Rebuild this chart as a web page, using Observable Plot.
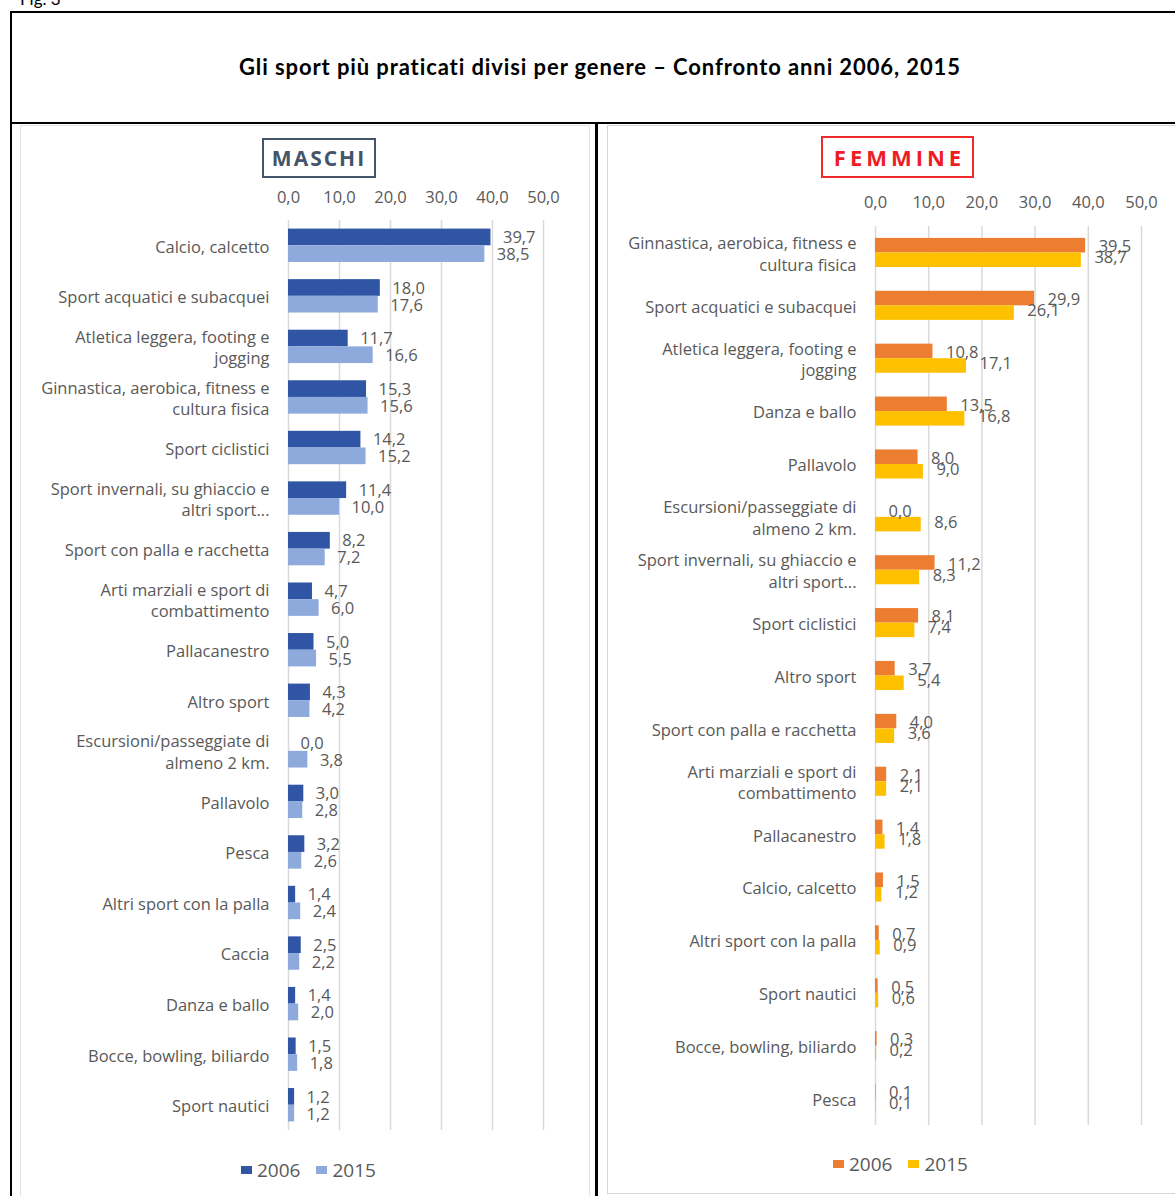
<!DOCTYPE html>
<html>
<head>
<meta charset="utf-8">
<script src="https://cdn.jsdelivr.net/npm/d3@7"></script>
<script src="https://cdn.jsdelivr.net/npm/@observablehq/plot@0.6"></script>
<style>
  html, body { margin: 0; padding: 0; background: #fff; }
  body { width: 1175px; height: 1196px; overflow: hidden; position: relative; font-family: "Open Sans", sans-serif; }
  .abs { position: absolute; }
  #fig { left: 20px; top: -12px; font: 17px Lato, sans-serif; color: #000; }
  #outer { left: 10px; top: 11px; width: 1220px; height: 1240px; border: 2px solid #000; box-sizing: border-box; }
  #hline { left: 10px; top: 122px; width: 1220px; height: 2px; background: #000; }
  #vline { left: 595px; top: 122px; width: 3px; height: 1120px; background: #000; }
  #title { left: 0; top: 53px; width: 1200px; text-align: center; font: bold 22px Lato, sans-serif; letter-spacing: 0.9px; color: #000; }
  #lp { left: 20px; top: 125px; width: 568px; height: 1100px; border: 1px solid #e3e3e3; background: #fff; }
  #rp { left: 607px; top: 125px; width: 620px; height: 1067px; border: 1px solid #d6d6d6; background: #fff; }
  .tbox { box-sizing: border-box; text-align: center; font-weight: bold; font-family: "Open Sans", sans-serif; }
  #mbox { left: 262px; top: 138px; width: 114px; height: 40px; border: 2px solid #44546A; color: #44546A; font-size: 21px; line-height: 36px; letter-spacing: 2px; }
  #fbox { left: 821px; top: 136px; width: 153px; height: 42px; border: 2px solid #EE2A2A; color: #EE1C25; font-size: 22px; line-height: 38px; letter-spacing: 4px; text-indent: 4px; }
  .legend { display: flex; align-items: center; font-size: 19px; color: #595959; font-family: "Open Sans", sans-serif; }
  .sw { display: inline-block; width: 11px; height: 8px; margin-right: 5px; }
  .item { display: flex; align-items: center; margin-right: 16px; }
  svg { overflow: visible; display: block; }
</style>
</head>
<body>
<div id="outer" class="abs"></div>
<div id="hline" class="abs"></div>
<div id="vline" class="abs"></div>
<div id="fig" class="abs">Fig. 3</div>
<div id="title" class="abs">Gli sport più praticati divisi per genere – Confronto anni 2006, 2015</div>
<div id="lp" class="abs"></div>
<div id="rp" class="abs"></div>
<div id="mbox" class="abs tbox">MASCHI</div>
<div id="fbox" class="abs tbox">FEMMINE</div>
<div id="leftChart" class="abs" style="left:20px; top:180px;"></div>
<div id="rightChart" class="abs" style="left:607px; top:180px;"></div>
<div id="leftLegend" class="abs legend" style="left:241px; top:1157px;"></div>
<div id="rightLegend" class="abs legend" style="left:833px; top:1151px;"></div>
<script>
// ---- Data ----
const years = ["2006", "2015"];
const tickValues = [0, 10, 20, 30, 40, 50];

const maleCategories = [
  "Calcio, calcetto",
  "Sport acquatici e subacquei",
  "Atletica leggera, footing e\njogging",
  "Ginnastica, aerobica, fitness e\ncultura fisica",
  "Sport ciclistici",
  "Sport invernali, su ghiaccio e\naltri sport...",
  "Sport con palla e racchetta",
  "Arti marziali e sport di\ncombattimento",
  "Pallacanestro",
  "Altro sport",
  "Escursioni/passeggiate di\nalmeno 2 km.",
  "Pallavolo",
  "Pesca",
  "Altri sport con la palla",
  "Caccia",
  "Danza e ballo",
  "Bocce, bowling, biliardo",
  "Sport nautici"
];
const male2006 = [39.7, 18.0, 11.7, 15.3, 14.2, 11.4, 8.2, 4.7, 5.0, 4.3, 0.0, 3.0, 3.2, 1.4, 2.5, 1.4, 1.5, 1.2];
const male2015 = [38.5, 17.6, 16.6, 15.6, 15.2, 10.0, 7.2, 6.0, 5.5, 4.2, 3.8, 2.8, 2.6, 2.4, 2.2, 2.0, 1.8, 1.2];

const femaleCategories = [
  "Ginnastica, aerobica, fitness e\ncultura fisica",
  "Sport acquatici e subacquei",
  "Atletica leggera, footing e\njogging",
  "Danza e ballo",
  "Pallavolo",
  "Escursioni/passeggiate di\nalmeno 2 km.",
  "Sport invernali, su ghiaccio e\naltri sport...",
  "Sport ciclistici",
  "Altro sport",
  "Sport con palla e racchetta",
  "Arti marziali e sport di\ncombattimento",
  "Pallacanestro",
  "Calcio, calcetto",
  "Altri sport con la palla",
  "Sport nautici",
  "Bocce, bowling, biliardo",
  "Pesca"
];
const female2006 = [39.5, 29.9, 10.8, 13.5, 8.0, 0.0, 11.2, 8.1, 3.7, 4.0, 2.1, 1.4, 1.5, 0.7, 0.5, 0.3, 0.1];
const female2015 = [38.7, 26.1, 17.1, 16.8, 9.0, 8.6, 8.3, 7.4, 5.4, 3.6, 2.1, 1.8, 1.2, 0.9, 0.6, 0.2, 0.1];

const maleColors = ["#2F55A4", "#8EA9DB"];
const femaleColors = ["#ED7D31", "#FFC000"];

// ---- Chart builder ----
const fmt = d => d.toFixed(1).replace(".", ",");

function chart(o) {
  const rows = o.cats.map((c, i) => ({cat: c, a: o.v2006[i], b: o.v2015[i]}));
  const plotH = o.height - o.marginTop - o.marginBottom;
  const step = plotH / o.cats.length;
  const bw = step * (1 - o.pi);
  return Plot.plot({
    width: o.width, height: o.height,
    marginLeft: o.marginLeft, marginRight: o.marginRight,
    marginTop: o.marginTop, marginBottom: o.marginBottom,
    style: {fontFamily: "'Open Sans', sans-serif", fontSize: "16px", color: "#595959", background: "transparent", overflow: "visible"},
    x: {domain: [0, 50]},
    y: {domain: o.cats, paddingInner: o.pi, paddingOuter: o.pi / 2, round: false},
    marks: [
      Plot.gridX(tickValues, {stroke: "#d9d9d9", strokeOpacity: 1, strokeWidth: 1.5}),
      Plot.axisX(tickValues, {anchor: "top", tickSize: 0, tickPadding: o.tickPad, tickFormat: fmt, fontSize: 16.5, label: null}),
      Plot.axisY({tickSize: 0, tickPadding: 19, lineHeight: 1.3, label: null, fontSize: 16.5}),
      Plot.barX(rows, {y: "cat", x: "a", fill: o.colors[0], insetBottom: bw / 2}),
      Plot.barX(rows, {y: "cat", x: "b", fill: o.colors[1], insetTop: bw / 2}),
      Plot.text(rows, {y: "cat", x: "a", text: d => fmt(d.a), dx: o.dx, dy: o.dyA, textAnchor: "start", fill: "#595959", fontSize: 16.5}),
      Plot.text(rows, {y: "cat", x: "b", text: d => fmt(d.b), dx: o.dx, dy: o.dyB, textAnchor: "start", fill: "#595959", fontSize: 16.5})
    ]
  });
}

document.getElementById("leftChart").append(chart({
  cats: maleCategories, v2006: male2006, v2015: male2015, colors: maleColors,
  width: 570, height: 960, marginLeft: 268, marginRight: 47, marginTop: 40, marginBottom: 10,
  pi: 0.34, tickPad: 18, dx: 12, dyA: -8, dyB: 9
}));

document.getElementById("rightChart").append(chart({
  cats: femaleCategories, v2006: female2006, v2015: female2015, colors: femaleColors,
  width: 568, height: 955, marginLeft: 268, marginRight: 34, marginTop: 46, marginBottom: 10,
  pi: 0.45, tickPad: 19, dx: 13, dyA: -6, dyB: 5
}));

function legend(el, colors) {
  years.forEach((y, i) => {
    const item = document.createElement("div");
    item.className = "item";
    const sw = document.createElement("span");
    sw.className = "sw";
    sw.style.background = colors[i];
    const t = document.createElement("span");
    t.textContent = y;
    item.append(sw, t);
    el.append(item);
  });
}
legend(document.getElementById("leftLegend"), maleColors);
legend(document.getElementById("rightLegend"), femaleColors);
</script>
</body>
</html>
